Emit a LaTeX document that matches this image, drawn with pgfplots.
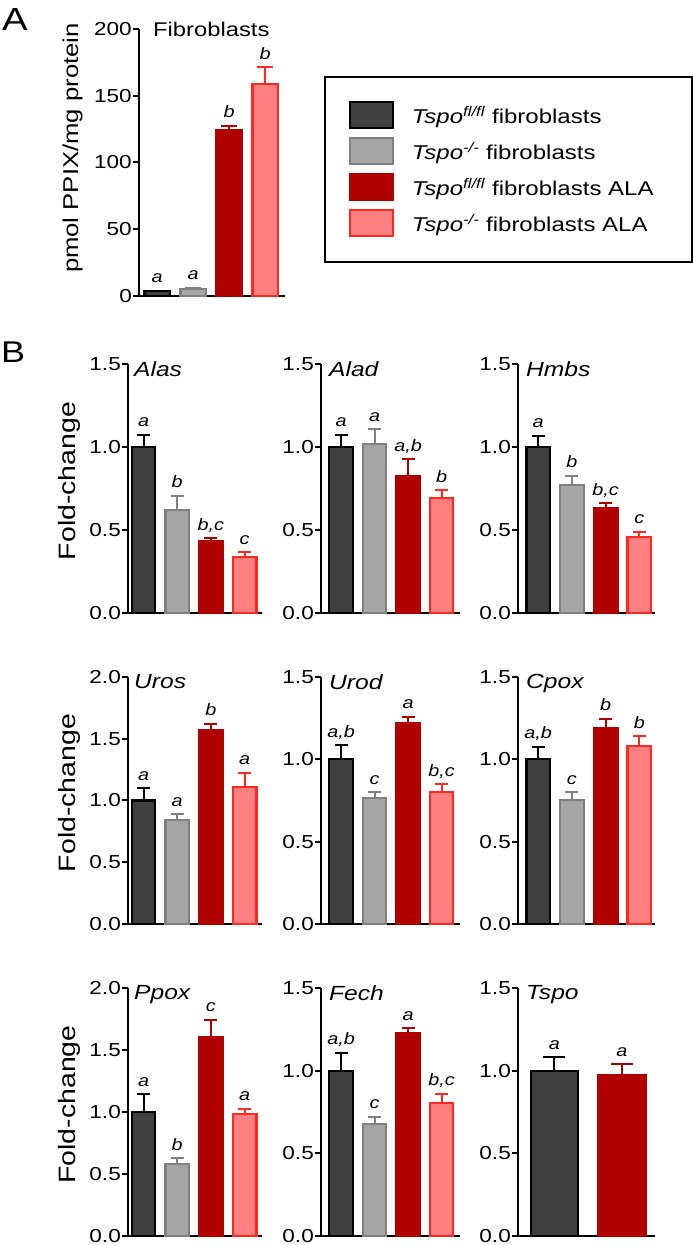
\documentclass[border=0pt]{standalone}
\usepackage{fontspec}
\setmainfont{Liberation Sans}[FakeStretch=1.2]
\usepackage{pgfplots}
\pgfplotsset{compat=1.18}

\definecolor{cA}{RGB}{64,64,64}
\definecolor{cB}{RGB}{166,166,166}
\definecolor{cBd}{RGB}{128,128,128}
\definecolor{cC}{RGB}{176,0,0}
\definecolor{cD}{RGB}{255,128,128}
\definecolor{cDd}{RGB}{255,40,30}

\newcommand{\fs}[1]{\fontsize{#1}{#1}\selectfont}
\newcommand{\capsz}{6.5pt}
\newcommand{\bw}{0.70}

\pgfplotsset{
  prism/.style={
    scale only axis, clip=false,
    axis x line=bottom, axis y line=left,
    axis line style={-, line width=2.2pt},
    xtick=\empty, ymin=0,
    tick align=outside, major tick length=6pt,
    ytick style={line width=2pt, black},
    /pgf/number format/assume math mode=true,
    tick label style={font=\fs{18.8}},
    yticklabel style={inner sep=1pt, /pgf/number format/.cd, fixed, fixed zerofill, precision=1},
    ylabel style={font=\fs{23.7}, anchor=center},
    title style={at={(0,1)}, anchor=north west, xshift=8pt, yshift=-3pt, inner sep=0pt, font=\fs{20.5}\itshape},
  },
  bar/.style={ybar, bar shift=0pt, bar width=\bw, line width=2.2pt, forget plot,
    /pgfplots/error bars/y dir=plus, /pgfplots/error bars/y explicit},
  b1/.style={bar, fill=cA, draw=black,
    /pgfplots/error bars/error bar style={line width=2pt, black},
    /pgfplots/error bars/error mark options={rotate=90, mark size=\capsz, line width=2pt, black}},
  b2/.style={bar, fill=cB, draw=cBd,
    /pgfplots/error bars/error bar style={line width=2pt, cBd},
    /pgfplots/error bars/error mark options={rotate=90, mark size=\capsz, line width=2pt, cBd}},
  b3/.style={bar, fill=cC, draw=cC,
    /pgfplots/error bars/error bar style={line width=2pt, cC},
    /pgfplots/error bars/error mark options={rotate=90, mark size=\capsz, line width=2pt, cC}},
  b4/.style={bar, fill=cD, draw=cDd,
    /pgfplots/error bars/error bar style={line width=2pt, cDd},
    /pgfplots/error bars/error mark options={rotate=90, mark size=\capsz, line width=2pt, cDd}},
  labs/.style={only marks, mark=none, forget plot, nodes near coords, point meta=explicit symbolic,
    every node near coord/.append style={anchor=base, yshift=8pt, inner sep=0pt, font=\fs{16.5}\itshape, black}},
}

\begin{document}
\begin{tikzpicture}
\path[use as bounding box] (0pt,0pt) rectangle (693pt,1245pt);
\node[anchor=north west, inner sep=0pt, font=\fs{32}] at (2pt,1237pt) {A};
\node[anchor=north west, inner sep=0pt, font=\fs{30}] at (1pt,903pt) {B};

% ---------------- Panel A
\renewcommand{\capsz}{8pt}
\begin{axis}[prism, at={(139pt,949pt)}, anchor=south west, width=146pt, height=267pt,
  xmin=-0.5, xmax=3.55, ymax=200, ytick={0,50,100,150,200},
  yticklabel style={/pgf/number format/precision=0},
  ylabel={pmol PPIX/mg protein}, ylabel style={at={(axis description cs:-0.455,0.554)}, font=\fs{21.4}},
  title={Fibroblasts}, title style={font=\fs{19.8}, xshift=6pt, yshift=4pt},
  legend style={at={(axis description cs:1.267,0.824)}, anchor=north west,
    draw=black, line width=2pt, font=\fs{20}, inner xsep=24pt, inner ysep=24.5pt,
    row sep=8pt, column sep=0pt, nodes={inner sep=0pt}},
  legend cell align=left]
\addlegendimage{legend image code/.code={\draw[fill=cA, draw=black, line width=2pt] (0pt,-13pt) rectangle (43pt,13pt);}}
\addlegendentry{\hspace{18pt}\textit{Tspo}\textsuperscript{\textit{fl/fl}} fibroblasts}
\addlegendimage{legend image code/.code={\draw[fill=cB, draw=cBd, line width=2pt] (0pt,-13pt) rectangle (43pt,13pt);}}
\addlegendentry{\hspace{18pt}\textit{Tspo}\textsuperscript{\textit{-/-}} fibroblasts}
\addlegendimage{legend image code/.code={\draw[fill=cC, draw=cC, line width=2pt] (0pt,-13pt) rectangle (43pt,13pt);}}
\addlegendentry{\hspace{18pt}\textit{Tspo}\textsuperscript{\textit{fl/fl}} fibroblasts ALA\rule{14pt}{0pt}}
\addlegendimage{legend image code/.code={\draw[fill=cD, draw=cDd, line width=2pt] (0pt,-13pt) rectangle (43pt,13pt);}}
\addlegendentry{\hspace{18pt}\textit{Tspo}\textsuperscript{\textit{-/-}} fibroblasts ALA}
\addplot[b1] coordinates {(0,3.5) +- (0,0.5)};
\addplot[b2] coordinates {(1,5.5) +- (0,0.8)};
\addplot[b3] coordinates {(2,124) +- (0,3.5)};
\addplot[b4] coordinates {(3,159) +- (0,12.5)};
\addplot[labs] coordinates {(0,4) [a] (1,6.3) [a] (2,127.5) [b] (3,171.5) [b]};
\end{axis}

\renewcommand{\capsz}{6.5pt}
% ---------------- Row 1
\begin{axis}[prism, at={(128pt,632pt)}, anchor=south west, width=133.5pt, height=249pt,
  xmin=-0.46, xmax=3.5, ymax=1.5, ytick={0,0.5,1,1.5},
  ylabel={Fold-change}, ylabel style={at={(axis description cs:-0.442,0.53)}},
  title={Alas}, title style={xshift=-2pt}]
\addplot[b1] coordinates {(0,1.00) +- (0,0.075)};
\addplot[b2] coordinates {(1,0.62) +- (0,0.085)};
\addplot[b3] coordinates {(2,0.435) +- (0,0.015)};
\addplot[b4] coordinates {(3,0.337) +- (0,0.03)};
\addplot[labs] coordinates {(0,1.075) [a] (1,0.705) [b] (2,0.45) [{b,c}] (3,0.367) [c]};
\end{axis}

\begin{axis}[prism, at={(321pt,632pt)}, anchor=south west, width=139pt, height=249pt,
  xmin=-0.6, xmax=3.55, ymax=1.5, ytick={0,0.5,1,1.5}, title={Alad}]
\addplot[b1] coordinates {(0,1.00) +- (0,0.075)};
\addplot[b2] coordinates {(1,1.016) +- (0,0.09)};
\addplot[b3] coordinates {(2,0.825) +- (0,0.10)};
\addplot[b4] coordinates {(3,0.693) +- (0,0.045)};
\addplot[labs] coordinates {(0,1.075) [a] (1,1.106) [a] (2,0.925) [{a,b}] (3,0.738) [b]};
\end{axis}

\begin{axis}[prism, at={(518pt,632pt)}, anchor=south west, width=136.5pt, height=249pt,
  xmin=-0.6, xmax=3.45, ymax=1.5, ytick={0,0.5,1,1.5}, title={Hmbs}]
\addplot[b1] coordinates {(0,1.00) +- (0,0.068)};
\addplot[b2] coordinates {(1,0.771) +- (0,0.056)};
\addplot[b3] coordinates {(2,0.634) +- (0,0.026)};
\addplot[b4] coordinates {(3,0.46) +- (0,0.028)};
\addplot[labs] coordinates {(0,1.068) [a] (1,0.827) [b] (2,0.66) [{b,c}] (3,0.488) [c]};
\end{axis}

% ---------------- Row 2
\begin{axis}[prism, at={(128pt,321pt)}, anchor=south west, width=133.5pt, height=247pt,
  xmin=-0.46, xmax=3.5, ymax=2, ytick={0,0.5,1,1.5,2},
  ylabel={Fold-change}, ylabel style={at={(axis description cs:-0.442,0.53)}},
  title={Uros}, title style={xshift=-2pt}]
\addplot[b1] coordinates {(0,1.00) +- (0,0.10)};
\addplot[b2] coordinates {(1,0.84) +- (0,0.05)};
\addplot[b3] coordinates {(2,1.57) +- (0,0.05)};
\addplot[b4] coordinates {(3,1.11) +- (0,0.115)};
\addplot[labs] coordinates {(0,1.10) [a] (1,0.89) [a] (2,1.62) [b] (3,1.225) [a]};
\end{axis}

\begin{axis}[prism, at={(321pt,321pt)}, anchor=south west, width=139pt, height=247pt,
  xmin=-0.6, xmax=3.55, ymax=1.5, ytick={0,0.5,1,1.5}, title={Urod}]
\addplot[b1] coordinates {(0,1.00) +- (0,0.085)};
\addplot[b2] coordinates {(1,0.765) +- (0,0.035)};
\addplot[b3] coordinates {(2,1.22) +- (0,0.04)};
\addplot[b4] coordinates {(3,0.80) +- (0,0.05)};
\addplot[labs] coordinates {(0,1.085) [{a,b}] (1,0.80) [c] (2,1.26) [a] (3,0.85) [{b,c}]};
\end{axis}

\begin{axis}[prism, at={(518pt,321pt)}, anchor=south west, width=136.5pt, height=247pt,
  xmin=-0.6, xmax=3.45, ymax=1.5, ytick={0,0.5,1,1.5}, title={Cpox}]
\addplot[b1] coordinates {(0,1.00) +- (0,0.075)};
\addplot[b2] coordinates {(1,0.753) +- (0,0.047)};
\addplot[b3] coordinates {(2,1.19) +- (0,0.055)};
\addplot[b4] coordinates {(3,1.079) +- (0,0.061)};
\addplot[labs] coordinates {(0,1.075) [{a,b}] (1,0.80) [c] (2,1.245) [b] (3,1.14) [b]};
\end{axis}

% ---------------- Row 3
\begin{axis}[prism, at={(128pt,9pt)}, anchor=south west, width=133.5pt, height=248pt,
  xmin=-0.46, xmax=3.5, ymax=2, ytick={0,0.5,1,1.5,2},
  ylabel={Fold-change}, ylabel style={at={(axis description cs:-0.442,0.53)}},
  title={Ppox}, title style={xshift=-2pt}]
\addplot[b1] coordinates {(0,1.00) +- (0,0.143)};
\addplot[b2] coordinates {(1,0.58) +- (0,0.047)};
\addplot[b3] coordinates {(2,1.60) +- (0,0.145)};
\addplot[b4] coordinates {(3,0.984) +- (0,0.043)};
\addplot[labs] coordinates {(0,1.143) [a] (1,0.627) [b] (2,1.745) [c] (3,1.027) [a]};
\end{axis}

\begin{axis}[prism, at={(321pt,9pt)}, anchor=south west, width=139pt, height=248pt,
  xmin=-0.6, xmax=3.55, ymax=1.5, ytick={0,0.5,1,1.5}, title={Fech}]
\addplot[b1] coordinates {(0,1.00) +- (0,0.109)};
\addplot[b2] coordinates {(1,0.677) +- (0,0.045)};
\addplot[b3] coordinates {(2,1.228) +- (0,0.03)};
\addplot[b4] coordinates {(3,0.804) +- (0,0.057)};
\addplot[labs] coordinates {(0,1.109) [{a,b}] (1,0.722) [c] (2,1.258) [a] (3,0.861) [{b,c}]};
\end{axis}

\renewcommand{\capsz}{11pt}
\begin{axis}[prism, at={(518pt,9pt)}, anchor=south west, width=137pt, height=248pt,
  xmin=-0.54, xmax=1.49, ymax=1.5, ytick={0,0.5,1,1.5}, title={Tspo}]
\addplot[b1] coordinates {(0,1.00) +- (0,0.08)};
\addplot[b3] coordinates {(1,0.975) +- (0,0.065)};
\addplot[labs] coordinates {(0,1.08) [a] (1,1.04) [a]};
\end{axis}
\end{tikzpicture}
\end{document}
